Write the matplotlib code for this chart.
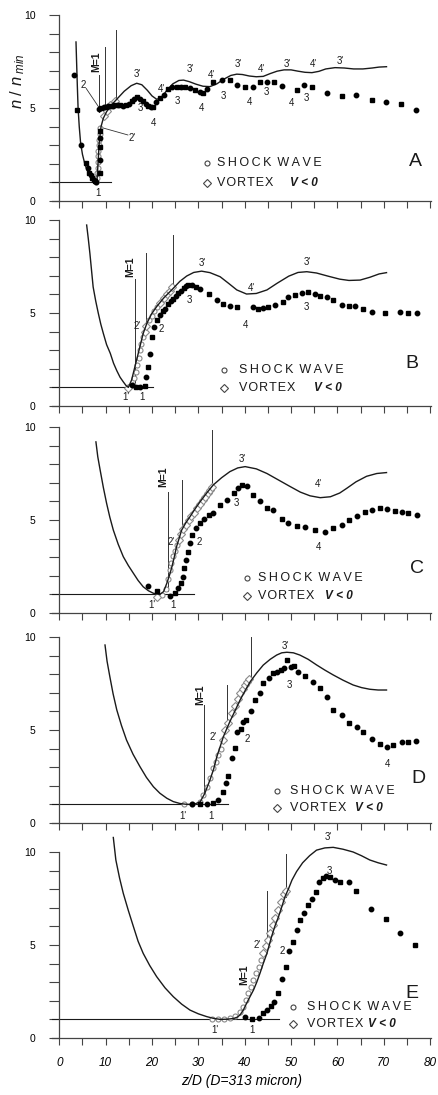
import matplotlib
matplotlib.use('Agg')
import matplotlib.pyplot as plt
from matplotlib.ticker import FixedLocator, NullFormatter, FuncFormatter

plt.rcParams['font.family'] = ['Liberation Sans', 'DejaVu Sans']
plt.rcParams['mathtext.fontset'] = 'custom'
plt.rcParams['mathtext.it'] = 'Liberation Sans:italic'
plt.rcParams['mathtext.rm'] = 'Liberation Sans'

# ---------------- data ----------------
# Panel A
A_th_x = [3.6, 3.75, 3.9, 4.05, 4.3, 4.6, 5.0, 5.5, 6.0, 6.6, 7.2, 7.7, 8.1, 8.35, 8.6, 9.0, 9.5, 10.2,
          11.2, 12.5, 14.0, 15.5, 16.7, 17.8, 19.0, 20.0, 21.0, 22.0, 23.2, 24.5, 25.8, 26.8, 28.0,
          29.5, 31.0, 32.5, 34.0, 35.5, 37.0, 38.3, 39.5, 41.0, 42.5, 44.0, 45.5, 47.0, 48.5, 50.0,
          51.5, 53.0, 54.5, 56.0, 57.5, 59.5, 61.5, 63.5, 65.5, 67.5, 69.0, 70.6]
A_th_y = [8.55, 7.3, 6.1, 5.0, 4.0, 3.1, 2.5, 2.0, 1.65, 1.35, 1.12, 1.02, 1.0, 2.0, 3.1, 4.0, 4.45, 4.8,
          5.15, 5.5, 5.9, 6.2, 6.33, 6.25, 5.95, 5.65, 5.47, 5.55, 5.95, 6.3, 6.48, 6.5, 6.42,
          6.28, 6.17, 6.15, 6.3, 6.55, 6.75, 6.82, 6.8, 6.72, 6.68, 6.7, 6.85, 6.98, 7.05, 7.05,
          6.98, 6.92, 6.9, 6.97, 7.1, 7.17, 7.15, 7.1, 7.1, 7.15, 7.2, 7.22]
A_exp_x = [3.1, 3.8, 4.7, 5.8, 6.2, 6.5, 6.8, 7.1, 7.4, 7.7, 8.0, 8.7, 8.7, 8.75, 8.8, 8.85,
           8.6, 9.1, 9.6, 10.1, 10.6, 11.1, 11.6, 12.1, 12.6, 13.2, 13.8, 14.4, 15.0, 15.6, 16.2,
           16.8, 17.4, 18.0, 18.6, 19.2, 19.8, 20.3, 20.9, 21.7, 22.5, 23.5, 24.4, 25.3, 26.2, 27.2,
           28.2, 29.2, 30.3, 31.1, 31.8, 33.2, 35.0, 36.8, 38.4, 40.1, 41.7, 43.3, 44.9, 46.4, 48.1,
           51.2, 52.8, 54.5, 57.7, 60.9, 64.0, 67.4, 70.5, 73.7, 77.0]
A_exp_y = [6.77, 4.9, 3.0, 2.05, 1.75, 1.5, 1.38, 1.25, 1.12, 1.05, 1.0, 1.5, 2.2, 2.9, 3.4, 3.75,
           4.97, 5.02, 5.05, 5.08, 5.1, 5.1, 5.12, 5.15, 5.15, 5.15, 5.13, 5.15, 5.22, 5.35, 5.5,
           5.6, 5.5, 5.35, 5.2, 5.1, 5.05, 5.05, 5.3, 5.55, 5.7, 6.0, 6.15, 6.15, 6.15, 6.15,
           6.05, 5.95, 5.85, 5.8, 6.0, 6.4, 6.5, 6.5, 6.24, 6.11, 6.11, 6.42, 6.42, 6.42, 6.18,
           5.97, 6.24, 6.15, 5.82, 5.65, 5.7, 5.43, 5.34, 5.22, 4.89]
A_circ_x = [8.0, 8.1, 8.2, 8.3, 8.35, 8.4, 8.45, 8.5, 8.6, 8.7, 8.8]
A_circ_y = [1.0, 1.25, 1.5, 1.8, 2.1, 2.4, 2.7, 3.0, 3.3, 3.6, 3.9]
A_diam_x = [9.7, 10.3, 11.0, 12.0]
A_diam_y = [4.55, 4.85, 5.15, 5.4]

# Panel B
B_th_x = [5.9, 6.25, 6.6, 6.95, 7.3, 7.85, 8.4, 8.95, 9.5, 10.2, 11.0, 11.7, 12.4, 13.1, 13.8, 14.4,
          14.9, 15.6, 16.3, 16.9, 17.4, 18.1, 18.9, 19.9, 21.0, 22.5, 24.6, 26.0, 27.5, 29.0, 30.7,
          32.5, 34.7, 36.5, 38.3, 40.4, 42.5, 44.8, 47.0, 49.5, 51.5, 53.4, 55.5, 58.0, 60.5, 62.5,
          64.9, 67.0, 69.0, 70.6]
B_th_y = [9.73, 9.0, 8.2, 7.3, 6.4, 5.65, 5.0, 4.4, 3.9, 3.3, 2.83, 2.3, 1.9, 1.55, 1.3, 1.1,
          1.0, 1.4, 2.1, 2.7, 3.2, 3.9, 4.45, 4.95, 5.34, 5.8, 6.33, 6.7, 6.99, 7.18, 7.25,
          7.17, 6.95, 6.6, 6.24, 6.02, 6.05, 6.24, 6.6, 6.98, 7.18, 7.22, 7.15, 6.98, 6.82, 6.75,
          6.77, 6.92, 7.1, 7.17]
B_exp_x = [15.6, 16.5, 17.4, 18.5, 18.8, 19.2, 19.5, 19.9, 20.5, 21.0, 21.7, 22.3, 22.8, 23.5, 24.1,
           24.6, 25.2, 25.7, 26.3, 26.8, 27.3, 27.8, 28.6, 29.6, 30.4, 32.2, 34.0, 35.4, 36.8, 38.4,
           41.9, 42.9, 44.0, 45.1, 46.6, 48.2, 49.4, 50.9, 52.3, 53.7, 55.2, 56.2, 57.7, 59.1, 60.9,
           62.4, 63.8, 65.5, 67.4, 70.3, 73.5, 75.3, 77.2]
B_exp_y = [1.13, 1.0, 1.0, 1.05, 1.55, 2.1, 2.8, 3.7, 4.27, 4.6, 4.9, 5.1, 5.24, 5.5, 5.62,
           5.73, 5.9, 6.05, 6.2, 6.35, 6.45, 6.5, 6.52, 6.42, 6.27, 6.02, 5.7, 5.48, 5.37, 5.3,
           5.3, 5.2, 5.25, 5.3, 5.43, 5.6, 5.84, 5.97, 6.1, 6.15, 6.02, 5.9, 5.84, 5.7, 5.43,
           5.37, 5.37, 5.24, 5.06, 5.0, 5.06, 5.0, 5.0]
B_circ_x = [15.8, 16.2, 16.5, 16.8, 17.1, 17.4, 17.7, 18.0, 19.3, 19.9, 20.5, 21.1]
B_circ_y = [1.15, 1.5, 1.85, 2.2, 2.6, 3.0, 3.35, 3.7, 4.6, 4.85, 5.1, 5.3]
B_diam_x = [14.9, 18.4, 18.8, 21.8, 22.5, 23.2, 23.8, 24.3]
B_diam_y = [0.95, 4.0, 4.3, 5.55, 5.78, 6.0, 6.2, 6.38]

# Panel C
C_th_x = [7.9, 8.3, 8.8, 9.5, 10.2, 10.9, 11.65, 12.7, 13.8, 14.9, 16.0, 17.0, 18.1, 19.2, 20.3,
          21.7, 22.5, 23.2, 23.8, 24.3, 24.8, 25.3, 25.9, 26.4, 27.3, 28.2, 29.3, 30.4, 31.8, 33.2,
          35.0, 36.8, 38.5, 40.1, 42.5, 44.8, 47.3, 49.8, 52.0, 54.1, 56.3, 58.5, 60.5, 62.0, 64.0,
          66.3, 68.5, 70.6]
C_th_y = [9.2, 8.4, 7.7, 6.75, 5.9, 5.15, 4.46, 3.7, 3.03, 2.55, 2.13, 1.75, 1.41, 1.2, 1.06,
          1.0, 1.15, 1.6, 2.05, 2.49, 3.0, 3.57, 4.05, 4.46, 4.85, 5.18, 5.6, 5.99, 6.45, 6.88,
          7.27, 7.6, 7.8, 7.87, 7.75, 7.5, 7.15, 6.8, 6.5, 6.3, 6.2, 6.25, 6.45, 6.7, 7.05,
          7.35, 7.5, 7.55]
C_exp_x = [19.2, 21.0, 23.9, 25.0, 25.7, 26.2, 26.6, 27.0, 27.4, 27.8, 28.2, 28.7, 29.5, 30.3, 31.2,
           32.2, 33.2, 34.7, 36.1, 37.6, 38.5, 39.5, 40.4, 41.8, 43.3, 44.8, 46.2, 48.0, 49.4, 51.2,
           53.0, 55.2, 57.3, 59.1, 61.0, 62.4, 64.2, 66.0, 67.4, 69.2, 70.6, 72.4, 73.9, 75.3, 77.1]
C_exp_y = [1.47, 1.2, 0.93, 1.06, 1.33, 1.6, 1.95, 2.4, 2.85, 3.3, 3.75, 4.2, 4.55, 4.82, 5.05,
           5.25, 5.4, 5.8, 6.07, 6.45, 6.7, 6.9, 6.82, 6.35, 6.02, 5.63, 5.53, 5.04, 4.82, 4.68,
           4.6, 4.46, 4.37, 4.55, 4.73, 5.0, 5.2, 5.45, 5.53, 5.62, 5.57, 5.5, 5.45, 5.36, 5.27]
C_circ_x = [22.1, 23.0, 23.4, 23.8, 24.2, 24.6, 25.0, 25.4]
C_circ_y = [0.97, 1.3, 1.85, 2.3, 2.7, 3.05, 3.35, 3.65]
C_diam_x = [21.0, 25.8, 26.2, 26.7, 27.3, 27.9, 28.5, 29.1, 29.7, 30.3, 30.9, 31.5, 32.1, 32.6, 33.0]
C_diam_y = [0.88, 3.95, 4.25, 4.5, 4.75, 5.0, 5.2, 5.4, 5.62, 5.85, 6.05, 6.25, 6.45, 6.62, 6.8]

# Panel D
D_th_x = [9.86, 10.3, 10.9, 11.6, 12.4, 13.4, 14.5, 15.9, 17.4, 18.8, 20.3, 21.7, 23.2, 24.6, 26.0,
          27.2, 28.2, 29.4, 30.4, 31.4, 32.5, 33.3, 34.0, 34.7, 35.4, 36.1, 36.8, 37.9, 39.0, 40.1,
          41.2, 42.6, 44.0, 45.5, 46.9, 48.0, 49.1, 50.5, 51.9, 53.7, 55.5, 57.3, 59.1, 61.2, 63.4,
          65.2, 67.0, 68.8, 70.6]
D_th_y = [9.57, 8.7, 7.87, 6.95, 6.08, 5.25, 4.46, 3.7, 3.03, 2.45, 1.95, 1.6, 1.33, 1.15, 1.05,
          1.01, 1.0, 1.04, 1.14, 1.6, 2.31, 2.9, 3.57, 4.1, 4.64, 5.05, 5.45, 6.03, 6.61, 7.12,
          7.6, 8.07, 8.49, 8.8, 9.03, 9.15, 9.18, 9.15, 9.03, 8.8, 8.5, 8.22, 7.96, 7.68, 7.42,
          7.28, 7.19, 7.15, 7.15]
D_exp_x = [28.6, 30.4, 31.8, 33.2, 34.3, 35.3, 35.9, 36.5, 37.2, 37.9, 38.4, 39.1, 39.7, 40.3, 41.3,
           42.2, 43.3, 44.0, 45.3, 46.2, 47.0, 47.8, 48.5, 49.2, 49.9, 50.6, 51.4, 53.0, 54.7, 56.3,
           57.7, 59.1, 61.0, 62.6, 64.2, 65.6, 67.4, 69.1, 70.6, 72.1, 73.9, 75.3, 77.0]
D_exp_y = [1.02, 1.02, 1.0, 1.06, 1.24, 1.68, 2.13, 2.53, 3.48, 4.05, 4.91, 5.03, 5.45, 5.54, 6.04,
           6.61, 7.0, 7.51, 7.81, 8.05, 8.14, 8.2, 8.33, 8.76, 8.4, 8.44, 8.14, 7.9, 7.6, 7.24,
           6.76, 6.08, 5.8, 5.36, 5.14, 4.91, 4.5, 4.25, 4.07, 4.2, 4.34, 4.37, 4.41]
D_circ_x = [27.0, 28.6, 30.3, 31.1, 31.8, 32.5, 33.2, 33.8, 34.3, 34.8]
D_circ_y = [1.0, 1.0, 1.12, 1.5, 1.95, 2.4, 2.94, 3.3, 3.66, 4.0]
D_diam_x = [35.3, 35.8, 36.5, 37.2, 37.9, 38.5, 39.0, 39.6, 40.1, 40.6, 41.0]
D_diam_y = [4.46, 5.0, 5.4, 5.9, 6.3, 6.65, 6.97, 7.2, 7.42, 7.6, 7.72]

# Panel E
E_th_x = [11.65, 12.2, 13.0, 13.8, 14.9, 16.0, 17.0, 18.1, 19.5, 21.0, 22.8, 24.6, 26.4, 28.2, 30.0,
          31.8, 33.2, 34.7, 36.2, 37.6, 38.4, 39.0, 39.7, 40.4, 41.1, 41.9, 42.6, 43.3, 44.0, 44.8,
          45.8, 46.5, 47.3, 48.0, 48.7, 49.5, 50.2, 51.2, 52.5, 54.0, 55.5, 57.3, 59.1, 61.2, 63.4,
          65.2, 67.0, 68.8, 70.6]
E_th_y = [10.78, 9.57, 8.6, 7.78, 6.85, 5.98, 5.2, 4.55, 3.9, 3.3, 2.7, 2.22, 1.82, 1.5, 1.3,
          1.15, 1.06, 1.0, 1.01, 1.05, 1.12, 1.24, 1.5, 1.86, 2.2, 2.58, 3.0, 3.48, 4.0, 4.55,
          5.45, 6.0, 6.52, 7.05, 7.6, 8.05, 8.49, 8.95, 9.42, 9.8, 10.1, 10.22, 10.25, 10.15, 10.0,
          9.8, 9.57, 9.42, 9.3]
E_exp_x = [40.1, 41.6, 43.0, 44.0, 44.8, 45.6, 46.3, 47.1, 48.1, 48.9, 49.6, 50.4, 51.2, 51.9, 52.8,
           53.7, 54.5, 55.3, 56.0, 56.8, 57.5, 58.4, 59.5, 60.6, 62.4, 64.0, 67.2, 70.4, 73.5, 76.8]
E_exp_y = [1.15, 1.0, 1.05, 1.36, 1.5, 1.72, 1.95, 2.44, 3.15, 3.83, 4.69, 5.18, 5.8, 6.34, 6.74,
           7.15, 7.46, 7.83, 8.4, 8.6, 8.71, 8.67, 8.5, 8.4, 8.4, 7.92, 6.92, 6.38, 5.63, 5.0]
E_circ_x = [32.9, 34.3, 35.6, 36.8, 37.9, 38.9, 39.7, 40.3, 40.8, 41.3, 41.9, 42.4, 43.0, 43.5]
E_circ_y = [1.0, 1.0, 1.02, 1.1, 1.2, 1.4, 1.68, 2.04, 2.4, 2.76, 3.1, 3.48, 3.8, 4.2]
E_diam_x = [44.0, 44.6, 45.0, 45.5, 46.1, 46.6, 47.1, 47.8, 48.4, 48.9]
E_diam_y = [4.55, 4.95, 5.27, 5.63, 6.07, 6.43, 6.88, 7.3, 7.76, 7.9]

# vertical marker lines: (x, y_bottom, y_top)
A_vlines = [(8.6, 4.8, 6.8), (9.9, 4.9, 8.3), (12.2, 5.45, 9.2)]
B_vlines = [(16.35, 1.0, 6.85), (18.65, 4.1, 8.2), (24.45, 6.33, 9.2)]
C_vlines = [(23.35, 1.2, 6.5), (26.4, 4.4, 7.15), (33.05, 6.88, 9.85)]
D_vlines = [(31.3, 1.5, 6.34), (36.1, 5.1, 7.42), (41.3, 7.7, 10.0)]
E_vlines = [(44.8, 5.05, 7.92), (48.9, 7.6, 9.9)]
# end of the horizontal n/nmin = 1 reference line
A_hend, B_hend, C_hend, D_hend, E_hend = 11.1, 20.2, 29.1, 36.3, 47.3

A_labels = [("1", 8.4, 0.41), ("3'", 16.9, 6.85), ("4'", 22.0, 6.0), ("3'", 28.2, 7.1), ("4'", 32.9, 6.77),
            ("3'", 38.6, 7.37), ("4'", 43.7, 7.1), ("3'", 49.1, 7.37), ("4'", 54.8, 7.37), ("3'", 60.6, 7.5),
            ("3", 17.4, 4.98), ("4", 20.3, 4.22), ("3", 25.5, 5.37), ("4", 30.7, 4.98), ("3", 35.4, 5.65),
            ("4", 41.1, 5.3), ("3", 44.6, 5.88), ("4", 50.1, 5.25), ("3", 53.3, 5.55), ("2", 5.2, 6.25),
            ("2'", 15.7, 3.4)]
B_labels = [("1'", 14.4, 0.5), ("1", 17.8, 0.5), ("2'", 16.8, 4.3), ("2", 22.1, 4.12), ("3", 28.1, 5.7),
            ("3'", 30.9, 7.7), ("4'", 41.5, 6.33), ("4", 40.1, 4.35), ("3'", 53.4, 7.73), ("3", 53.4, 5.34)]
C_labels = [("1'", 19.9, 0.43), ("1", 24.5, 0.43), ("2'", 24.1, 3.84), ("2", 30.1, 3.84), ("3'", 39.4, 8.26),
            ("3", 38.1, 5.93), ("4'", 55.9, 6.94), ("4", 55.9, 3.57)]
D_labels = [("1'", 26.6, 0.39), ("1", 32.7, 0.39), ("2'", 33.2, 4.64), ("2", 40.6, 4.5), ("3'", 48.7, 9.52),
            ("3", 49.6, 7.42), ("4", 70.9, 3.17)]
E_labels = [("1'", 33.6, 0.43), ("1", 41.6, 0.41), ("2'", 42.6, 5.0), ("2", 48.0, 4.69), ("3", 58.3, 9.0),
            ("3'", 58.1, 10.8)]

panel_names = ["A", "B", "C", "D", "E"]
mach_label_xy = [(7.9, 7.5), (15.3, 7.5), (22.4, 7.3), (30.4, 6.9), (39.9, 3.4)]
legend_xy = [(31.8, 34.0, 2.03, 0.98, 15.8), (35.5, 38.8, 1.94, 0.95, 16.2), (40.4, 42.9, 1.86, 0.91, 14.4),
             (47.0, 49.8, 1.74, 0.79, 14.0), (50.4, 53.4, 1.68, 0.74, 13.3)]
letter_xy = [(76.8, 2.1), (76.0, 2.3), (77.1, 2.4), (77.5, 2.4), (76.0, 2.4)]

x_ticks = list(range(0, 81, 5))
x_ticklabels = {v: str(v) for v in range(0, 81, 10)}
y_major = [0, 5, 10]
y_minor = [1, 2, 3, 4, 6, 7, 8, 9]

# ---------------- figure ----------------
W, H = 438, 1095
fig = plt.figure(figsize=(W / 100, H / 100), dpi=100)
px_per_y = 18.6
y0_pix = [201, 406, 613, 823, 1038]
x_lo, x_hi = -1.6, 80.2
ax_left_px, ax_w_px = 51.9, 379.1

panels = [
    (A_th_x, A_th_y, A_exp_x, A_exp_y, A_circ_x, A_circ_y, A_diam_x, A_diam_y, A_vlines, A_hend, A_labels),
    (B_th_x, B_th_y, B_exp_x, B_exp_y, B_circ_x, B_circ_y, B_diam_x, B_diam_y, B_vlines, B_hend, B_labels),
    (C_th_x, C_th_y, C_exp_x, C_exp_y, C_circ_x, C_circ_y, C_diam_x, C_diam_y, C_vlines, C_hend, C_labels),
    (D_th_x, D_th_y, D_exp_x, D_exp_y, D_circ_x, D_circ_y, D_diam_x, D_diam_y, D_vlines, D_hend, D_labels),
    (E_th_x, E_th_y, E_exp_x, E_exp_y, E_circ_x, E_circ_y, E_diam_x, E_diam_y, E_vlines, E_hend, E_labels),
]

ink = '#1a1a1a'
grey = '#8a8a8a'

for i, (thx, thy, ex, ey, cx, cy, dx, dy, vl, hend, labels) in enumerate(panels):
    y0 = y0_pix[i]
    ymax = 11.0
    bottom = (H - y0) / H
    height = ymax * px_per_y / H
    ax = fig.add_axes([ax_left_px / W, bottom, ax_w_px / W, height])
    ax.patch.set_alpha(0)
    ax.set_xlim(x_lo, x_hi)
    ax.set_ylim(0, ymax)
    for s in ['top', 'right']:
        ax.spines[s].set_visible(False)
    ax.spines['left'].set_position(('data', 0))
    ax.spines['left'].set_bounds(0, 10)
    for s in ['left', 'bottom']:
        ax.spines[s].set_color('#444444')
        ax.spines[s].set_linewidth(0.9)

    ax.xaxis.set_major_locator(FixedLocator(x_ticks))
    ax.tick_params(axis='x', which='major', direction='out', length=5, width=0.8, color='#444444')
    if i == 4:
        ax.xaxis.set_major_formatter(FuncFormatter(lambda v, p: x_ticklabels.get(int(round(v)), '')))
        ax.tick_params(axis='x', pad=9, labelsize=8.5)
        for t in ax.get_xticklabels():
            t.set_fontstyle('italic')
    else:
        ax.xaxis.set_major_formatter(NullFormatter())
    ax.yaxis.set_major_locator(FixedLocator(y_major))
    ax.yaxis.set_minor_locator(FixedLocator(y_minor))
    ax.tick_params(axis='y', which='both', direction='out', length=7, width=0.8, color='#444444')
    ax.tick_params(axis='y', which='major', labelsize=7.5, pad=10)

    # reference line n/nmin = 1
    ax.plot([x_lo, hend], [1, 1], color=ink, lw=0.8, clip_on=False, zorder=2)
    # vertical markers
    for (vx, vb, vt) in vl:
        ax.plot([vx, vx], [vb, vt], color='#333333', lw=0.7, zorder=2, clip_on=False)

    # open markers (shock wave / vortex)
    ax.plot(cx, cy, 'o', ms=3.6, mfc='white', mec=grey, mew=0.8, ls='none', zorder=3)
    ax.plot(dx, dy, 'D', ms=3.8, mfc='white', mec=grey, mew=0.8, ls='none', zorder=3)
    # theory curve
    ax.plot(thx, thy, color=ink, lw=1.0, zorder=4, clip_on=False)
    # experimental points
    ax.plot(ex[0::2], ey[0::2], 'o', ms=3.2, color='black', ls='none', zorder=5)
    ax.plot(ex[1::2], ey[1::2], 's', ms=2.9, color='black', ls='none', zorder=5)

    for (t, lx, ly) in labels:
        ax.text(lx, ly, t, fontsize=7, ha='center', va='center', color=ink, zorder=6)

    # Mach label
    mx, my = mach_label_xy[i]
    ax.text(mx, my, 'M=1', rotation=90, fontsize=7.5, fontweight='bold', ha='center', va='center',
            color=ink, zorder=6)

    # legend
    mkx, tx, r1, r2, voff = legend_xy[i]
    ax.plot([mkx], [r1], 'o', ms=3.6, mfc='white', mec='#444444', mew=0.8, clip_on=False)
    ax.plot([mkx], [r2], 'D', ms=4.5, mfc='white', mec='#444444', mew=0.8, clip_on=False)
    ax.text(tx, r1, 'S\u2009H\u2009O\u2009C\u2009K\u2009 W\u2009A\u2009V\u2009E', fontsize=9,
            ha='left', va='center', color=ink)
    ax.text(tx, r2, 'V\u200aO\u200aR\u200aT\u200aE\u200aX', fontsize=9, ha='left', va='center', color=ink)
    ax.text(tx + voff, r2, 'V < 0', fontsize=8.5, fontweight='bold', fontstyle='italic',
            ha='left', va='center', color=ink)

    # panel letter
    lx, ly = letter_xy[i]
    ax.text(lx, ly, panel_names[i], fontsize=14, ha='center', va='center', color=ink)

    if i == 0:
        # leader lines for 2 and 2'
        ax.plot([5.8, 8.5], [6.05, 5.05], color='#333333', lw=0.6)
        ax.plot([14.8, 9.1], [3.55, 3.95], color='#333333', lw=0.6)
    if i == 4:
        ax.set_xlabel('z/D (D=313 micron)', fontsize=10, fontstyle='italic', labelpad=3)

fig.text(18 / W, 1 - 81 / H, r'$n\ /\ n_{\ min}$', rotation=90, fontsize=12, ha='center', va='center',
         color=ink)

fig.savefig('out.png', dpi=100)
